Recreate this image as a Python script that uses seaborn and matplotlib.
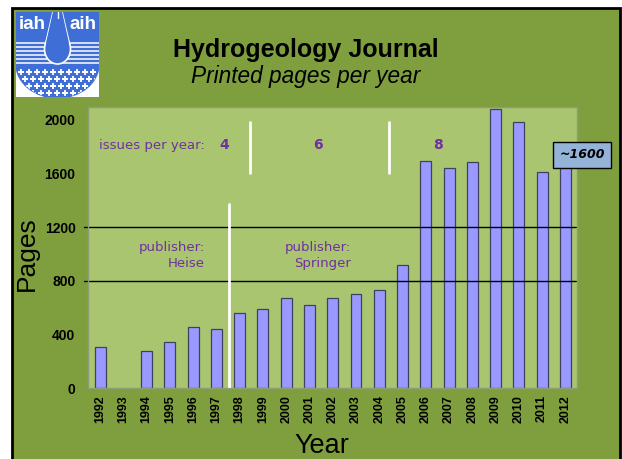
import numpy as np
import pandas as pd
import matplotlib.pyplot as plt
import matplotlib.patches as mpatches
import seaborn as sns

# Data
years = [str(y) for y in range(1992, 2013)]
pages = [306, np.nan, 273, 340, 455, 440, 560, 590, 672, 620, 672,
         700, 731, 918, 1694, 1642, 1690, 2082, 1985, 1612, 1650]
issue_labels = ['4', '6', '8']
issue_pos = [5.32, 9.37, 14.52]
publishers = ['publisher:\nHeise', 'publisher:\nSpringer']
ref_lines = [800, 1200]
estimate_label = '~1600'

slide_green = '#7f9f3f'
plot_green = '#a9c56f'
bar_blue = '#9999ff'
purple = '#7030a0'

df = pd.DataFrame({'year': years, 'pages': pages})

sns.set_style('white')
plt.rcParams['font.family'] = ['Liberation Sans', 'DejaVu Sans']
plt.rcParams['text.color'] = 'black'
plt.rcParams['xtick.color'] = 'black'
plt.rcParams['ytick.color'] = 'black'

fig = plt.figure(figsize=(6.22, 4.59), dpi=100)
fig.patch.set_facecolor('white')
W, H = 622, 459

# slide background with black frame (bottom edge runs off the image)
fig.patches.append(mpatches.Rectangle((12 / W, -0.05), (620 - 12) / W, 0.05 + (459 - 8) / H,
                                      transform=fig.transFigure, facecolor=slide_green,
                                      edgecolor='black', linewidth=2, zorder=-5))

ax = fig.add_axes([88 / W, (H - 388) / H, (577 - 88) / W, (388 - 107) / H])
ax.set_facecolor(plot_green)

sns.barplot(data=df, x='year', y='pages', order=years, color=bar_blue,
            width=0.47, edgecolor='#404060', linewidth=0.9, saturation=1, ax=ax)

ax.set_xlim(-0.52, 20.47)
ax.set_ylim(0, 2097)
ax.set_yticks([0, 400, 800, 1200, 1600, 2000])
ax.tick_params(axis='y', length=0, pad=9, labelsize=10)
for lbl in ax.get_yticklabels():
    lbl.set_fontweight('bold')
ax.tick_params(axis='x', length=0, pad=5, labelsize=9, labelrotation=90)
for lbl in ax.get_xticklabels():
    lbl.set_fontweight('bold')
ax.set_xticks(np.arange(-0.5, 20.6, 1), minor=True)
ax.tick_params(axis='x', which='minor', length=3, color='#556633', width=0.8)
ax.set_xlabel('')
ax.set_ylabel('')
for s in ax.spines.values():
    s.set_color('#8f9c78')
    s.set_linewidth(1)

# reference lines at 800 and 1200, reaching a bit outside the plot
for v in ref_lines:
    ax.plot([-0.7, 20.47], [v, v], color='black', lw=1, clip_on=False, zorder=1)

# white separators
ax.plot([5.55, 5.55], [0, 1370], color='white', lw=2, zorder=4)
ax.plot([6.45, 6.45], [1605, 1985], color='white', lw=2, zorder=4)
ax.plot([12.4, 12.4], [1605, 1985], color='white', lw=2, zorder=4)

# annotations
ax.text(-0.05, 1810, 'issues per year:', color=purple, fontsize=9.5, va='center',
        ha='left', family='DejaVu Sans')
for lab, xp in zip(issue_labels, issue_pos):
    ax.text(xp, 1810, lab, color=purple, fontsize=10, fontweight='bold',
            va='center', ha='center', family='DejaVu Sans')
ax.text(4.5, 880, publishers[0], color=purple, fontsize=9.5, ha='right',
        va='bottom', linespacing=1.3, family='DejaVu Sans')
ax.text(10.8, 880, publishers[1], color=purple, fontsize=9.5, ha='right',
        va='bottom', linespacing=1.3, family='DejaVu Sans')

ax.text(20.72, 1739, estimate_label, fontsize=9, fontstyle='italic', fontweight='bold',
        ha='center', va='center', zorder=6, clip_on=False, family='DejaVu Sans',
        bbox=dict(boxstyle='square,pad=0.5', facecolor='#95b3d7', edgecolor='black', lw=1))

# titles and axis labels
fig.text(306 / W, 1 - 50 / H, 'Hydrogeology Journal', fontsize=18, fontweight='bold',
         ha='center', va='center')
fig.text(306 / W, 1 - 77 / H, 'Printed pages per year', fontsize=16.3, fontstyle='italic',
         ha='center', va='center')
fig.text(27 / W, 1 - 254 / H, 'Pages', fontsize=19, rotation=90, ha='center', va='center')
fig.text(322 / W, 1 - 446 / H, 'Year', fontsize=19.5, ha='center', va='center')

# simplified IAH logo (pixel coords inside the white box, y pointing down)
lax = fig.add_axes([16 / W, (H - 97) / H, 83 / W, 85 / H])
lax.set_xlim(0, 83)
lax.set_ylim(85, 0)
lax.set_facecolor('white')
lax.set_xticks([])
lax.set_yticks([])
for s in lax.spines.values():
    s.set_visible(False)
logo_blue = '#3f6fd6'
shield_top = mpatches.Rectangle((0, 0), 83, 52, color=logo_blue, zorder=1)
shield_bot = mpatches.Ellipse((41.5, 52), 83, 68, color=logo_blue, zorder=1)
lax.add_patch(shield_top)
lax.add_patch(shield_bot)
for yy in np.arange(31, 54, 4):
    lax.plot([0, 83], [yy, yy], color='white', lw=1.1, zorder=2)
# drop with white outline
lax.add_patch(mpatches.Polygon([[37, 0], [46, 0], [53, 30], [30, 30]], closed=True,
                               facecolor=logo_blue, edgecolor='white', lw=1.2, zorder=3))
lax.add_patch(mpatches.Ellipse((41.5, 37), 26, 30, facecolor=logo_blue,
                               edgecolor='white', lw=1.2, zorder=3))
lax.add_patch(mpatches.Polygon([[37.6, 0], [45.4, 0], [52.3, 31], [30.7, 31]], closed=True,
                               color=logo_blue, zorder=4))
lax.plot([41.5, 41.5], [0, 6], color='white', lw=1, zorder=5)
lax.text(16, 13, 'iah', color='white', fontsize=13.5, fontweight='bold', ha='center',
         va='center', zorder=5)
lax.text(67, 13, 'aih', color='white', fontsize=13.5, fontweight='bold', ha='center',
         va='center', zorder=5)
for i, yy in enumerate([60, 67, 74, 81]):
    off = 0 if i % 2 == 0 else 4
    for xx in np.arange(5 + off, 82, 8):
        m, = lax.plot(xx, yy, marker='+', color='white', ms=4.5, mew=1.3, zorder=5)
        m.set_clip_path(shield_bot)

fig.savefig('out.png', dpi=100, facecolor=fig.get_facecolor())
